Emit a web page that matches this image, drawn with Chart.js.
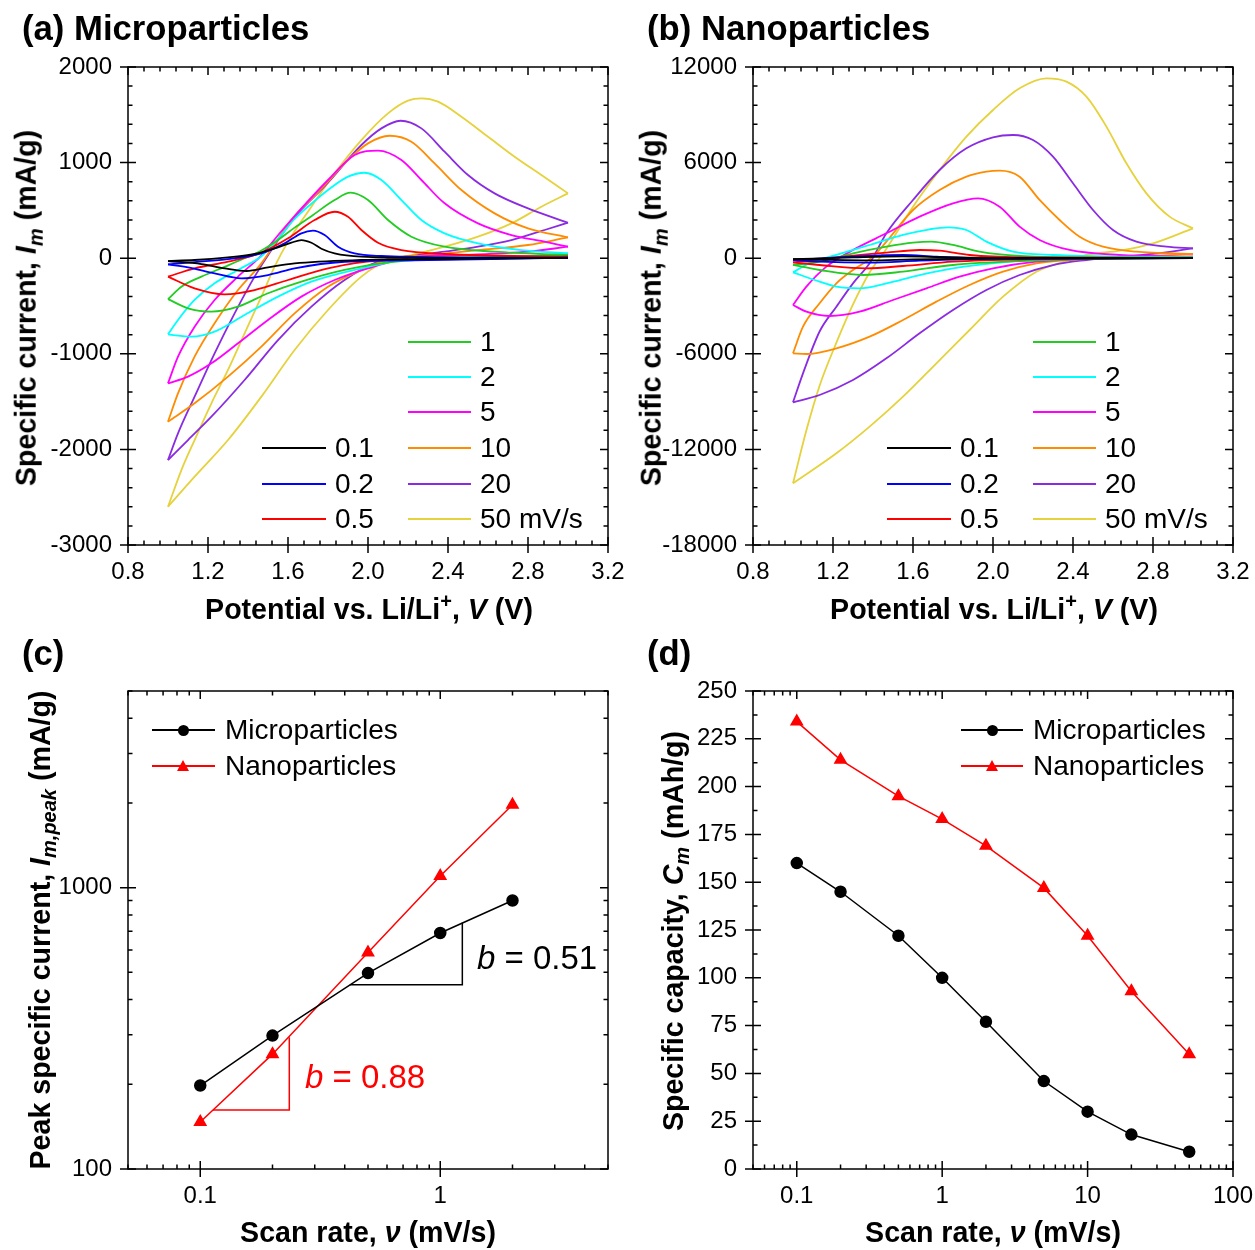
<!DOCTYPE html>
<html><head><meta charset="utf-8">
<script src="https://cdn.jsdelivr.net/npm/chart.js@4.4.0/dist/chart.umd.min.js"></script>
<style>
body{margin:0;background:#fff;}
#wrap{position:relative;width:1255px;height:1250px;overflow:hidden;font-family:"Liberation Sans",Arial,sans-serif;color:#000;background:#fff;}
canvas{position:absolute;}
.t{position:absolute;white-space:nowrap;line-height:1;}
.ptitle{font-weight:bold;font-size:34.7px;transform:translateY(-50%);}
.axt{font-weight:bold;font-size:28.6px;transform:translate(-50%,-50%);}
.axt.rot{transform:translate(-50%,-50%) rotate(-90deg);}
.lg{font-size:28px;transform:translateY(-50%);}
.bl{font-size:33px;transform:translateY(-50%);}
.ln{position:absolute;height:2px;}
sub,sup{font-size:0.7em;line-height:0;}
</style></head><body><div id="wrap">
<canvas id="ca" width="648" height="625" style="left:0;top:0"></canvas>
<canvas id="cb" width="648" height="625" style="left:625px;top:0"></canvas>
<canvas id="cc" width="648" height="625" style="left:0;top:625px"></canvas>
<canvas id="cd" width="648" height="625" style="left:625px;top:625px"></canvas>

<div class="t ptitle" style="left:22px;top:28px">(a) Microparticles</div>
<div class="t ptitle" style="left:647px;top:28px">(b) Nanoparticles</div>
<div class="t ptitle" style="left:22px;top:653px">(c)</div>
<div class="t ptitle" style="left:647px;top:653px">(d)</div>

<div class="t axt" style="left:369px;top:609px">Potential vs. Li/Li<sup>+</sup>, <i>V</i> (V)</div>
<div class="t axt" style="left:994px;top:609px">Potential vs. Li/Li<sup>+</sup>, <i>V</i> (V)</div>
<div class="t axt rot" style="left:26px;top:308px">Specific current, <i>I</i><sub><i>m</i></sub> (mA/g)</div>
<div class="t axt rot" style="left:651px;top:308px">Specific current, <i>I</i><sub><i>m</i></sub> (mA/g)</div>

<div class="t axt" style="left:368px;top:1232px">Scan rate, <i>ν</i> (mV/s)</div>
<div class="t axt" style="left:993px;top:1232px">Scan rate, <i>ν</i> (mV/s)</div>
<div class="t axt rot" style="left:40px;top:930px">Peak specific current, <i>I</i><sub><i>m,peak</i></sub> (mA/g)</div>
<div class="t axt rot" style="left:673px;top:931px">Specific capacity, <i>C</i><sub><i>m</i></sub> (mAh/g)</div>

<div class="t bl" style="left:477px;top:957px"><i>b</i> = 0.51</div>
<div class="t bl" style="left:305px;top:1076px;color:#ff0000"><i>b</i> = 0.88</div>

<div id="legends"></div>
</div>
<script>
// ---------- shared labels / colours ----------
const rateLabels = ['0.1','0.2','0.5','1','2','5','10','20','50 mV/s'];
const rateColors = ['#000000','#0000ff','#ff0000','#22cc22','#00ffff','#ff00ff','#ff8c00','#8a2be2','#e6d23c'];

// ---------- tick labels ----------
const cvXTicks = [0.8,1.2,1.6,2.0,2.4,2.8,3.2];
const microYTicks = [-3000,-2000,-1000,0,1000,2000];
const nanoYTicks = [-18000,-12000,-6000,0,6000,12000];
const cXTicks = [0.1,1];
const cYTicks = [100,1000];
const dXTicks = [0.1,1,10,100];
const dYTicks = [0,25,50,75,100,125,150,175,200,225,250];

// ---------- (a) microparticles CV: [V, mA/g]; Up = anodic sweep, Dn = cathodic sweep ----------
const mu01Up = [[1.0,-30],[1.133,-19],[1.3,9],[1.433,44],[1.533,103],[1.617,162],[1.667,190],[1.717,162],[1.767,99],[1.833,51],[1.967,16],[2.3,4],[3.0,3]];
const mu01Dn = [[1.0,-30],[1.167,-61],[1.283,-106],[1.392,-134],[1.5,-96],[1.633,-54],[1.967,-19],[2.5,-5],[3.0,3]];
const mu02Up = [[1.0,-65],[1.133,-40],[1.3,-9],[1.467,51],[1.583,155],[1.667,260],[1.725,288],[1.783,242],[1.85,120],[1.933,50],[2.067,23],[2.467,9],[3.0,5]];
const mu02Dn = [[1.0,-65],[1.1,-96],[1.233,-159],[1.367,-211],[1.5,-176],[1.633,-106],[1.883,-37],[2.3,-19],[3.0,5]];
const mu05Up = [[1.0,-193],[1.133,-106],[1.3,-37],[1.467,58],[1.6,208],[1.733,399],[1.833,486],[1.9,434],[1.967,295],[2.05,162],[2.167,85],[2.383,44],[3.0,16]];
const mu05Dn = [[1.0,-193],[1.133,-315],[1.283,-378],[1.433,-333],[1.6,-228],[1.8,-106],[2.05,-26],[2.467,-10],[3.0,16]];
const mu1Up = [[1.0,-428],[1.067,-298],[1.167,-193],[1.283,-90],[1.383,0],[1.467,80],[1.55,190],[1.633,320],[1.717,440],[1.833,608],[1.913,685],[2.0,608],[2.1,399],[2.217,225],[2.383,120],[2.633,68],[3.0,33]];
const mu1Dn = [[1.0,-428],[1.1,-524],[1.217,-559],[1.35,-507],[1.5,-367],[1.667,-245],[1.883,-123],[2.133,-36],[2.467,-2],[3.0,33]];
const mu2Up = [[1.0,-796],[1.05,-646],[1.133,-437],[1.233,-263],[1.35,-123],[1.467,20],[1.55,200],[1.633,410],[1.717,570],[1.8,713],[1.9,853],[1.983,894],[2.067,818],[2.167,608],[2.267,399],[2.383,260],[2.55,155],[2.767,85],[3.0,51]];
const mu2Dn = [[1.0,-796],[1.117,-821],[1.233,-768],[1.383,-594],[1.55,-402],[1.717,-245],[1.967,-106],[2.133,-36],[2.383,5],[2.717,16],[3.0,51]];
const mu5Up = [[1.0,-1309],[1.05,-1030],[1.133,-716],[1.233,-437],[1.35,-193],[1.467,30],[1.55,240],[1.633,441],[1.8,818],[1.933,1079],[2.05,1125],[2.167,1027],[2.267,818],[2.383,574],[2.55,364],[2.717,242],[2.883,173],[3.0,120]];
const mu5Dn = [[1.0,-1309],[1.1,-1239],[1.217,-1100],[1.35,-890],[1.5,-646],[1.667,-402],[1.833,-228],[2.0,-106],[2.217,9],[2.467,33],[2.8,68],[3.0,120]];
const mu10Up = [[1.0,-1710],[1.05,-1414],[1.133,-1030],[1.233,-681],[1.35,-333],[1.467,-54],[1.55,200],[1.633,441],[1.717,620],[1.8,800],[1.883,992],[2.0,1201],[2.108,1281],[2.217,1219],[2.333,992],[2.467,713],[2.633,469],[2.8,312],[3.0,218]];
const mu10Dn = [[1.0,-1710],[1.133,-1518],[1.3,-1239],[1.467,-925],[1.633,-577],[1.8,-298],[1.967,-123],[2.1,-12],[2.3,33],[2.55,85],[2.8,138],[3.0,218]];
const mu20Up = [[1.0,-2111],[1.05,-1832],[1.133,-1448],[1.233,-995],[1.333,-577],[1.433,-193],[1.517,86],[1.633,427],[1.8,790],[1.967,1184],[2.067,1358],[2.163,1438],[2.267,1358],[2.383,1114],[2.5,870],[2.633,678],[2.8,521],[3.0,371]];
const mu20Dn = [[1.0,-2111],[1.1,-1902],[1.217,-1658],[1.383,-1274],[1.55,-856],[1.717,-507],[1.883,-228],[2.05,-36],[2.217,23],[2.383,68],[2.55,120],[2.717,190],[2.883,295],[3.0,371]];
const mu50Up = [[1.0,-2600],[1.067,-2216],[1.133,-1902],[1.217,-1518],[1.3,-1169],[1.383,-786],[1.467,-402],[1.533,-89],[1.6,173],[1.717,539],[1.833,887],[1.967,1236],[2.1,1515],[2.2,1648],[2.267,1672],[2.35,1637],[2.467,1480],[2.6,1271],[2.733,1062],[2.867,870],[3.0,678]];
const mu50Dn = [[1.0,-2600],[1.133,-2285],[1.3,-1902],[1.467,-1448],[1.633,-960],[1.8,-542],[1.967,-193],[2.1,-19],[2.217,33],[2.383,120],[2.55,225],[2.717,364],[2.867,539],[3.0,678]];

// ---------- (b) nanoparticles CV ----------
const na01Up = [[1.0,-60],[1.3,50],[1.55,110],[1.75,60],[2.0,10],[3.0,0]];
const na01Dn = [[1.0,-60],[1.15,-100],[1.38,-140],[1.6,-80],[2.0,-20],[3.0,0]];
const na02Up = [[1.0,-112],[1.3,97],[1.55,202],[1.717,97],[1.967,10],[3.0,0]];
const na02Dn = [[1.0,-112],[1.133,-217],[1.383,-280],[1.633,-154],[2.0,-40],[3.0,0]];
const na05Up = [[1.0,-258],[1.217,55],[1.467,348],[1.633,516],[1.733,474],[1.883,202],[2.133,55],[3.0,20]];
const na05Dn = [[1.0,-258],[1.133,-426],[1.367,-635],[1.55,-489],[1.8,-217],[2.2,-60],[3.0,20]];
const na1Up = [[1.0,-426],[1.133,-217],[1.3,307],[1.467,725],[1.6,976],[1.692,1039],[1.8,829],[1.933,411],[2.133,139],[2.5,50],[3.0,30]];
const na1Dn = [[1.0,-426],[1.133,-740],[1.35,-1053],[1.55,-844],[1.8,-426],[2.133,-175],[2.5,-50],[3.0,30]];
const na2Up = [[1.0,-887],[1.08,-321],[1.217,202],[1.383,829],[1.55,1457],[1.683,1813],[1.775,1938],[1.867,1771],[1.967,1039],[2.1,411],[2.3,202],[3.0,55]];
const na2Dn = [[1.0,-887],[1.133,-1473],[1.217,-1787],[1.333,-1892],[1.467,-1578],[1.633,-1055],[1.8,-636],[2.05,-260],[2.3,-71],[3.0,55]];
const na5Up = [[1.0,-2937],[1.067,-1785],[1.167,-530],[1.3,516],[1.467,1562],[1.633,2608],[1.8,3445],[1.925,3759],[2.033,3235],[2.133,1980],[2.233,1143],[2.383,516],[2.633,202],[3.0,97]];
const na5Dn = [[1.0,-2937],[1.067,-3356],[1.183,-3628],[1.333,-3356],[1.5,-2624],[1.667,-1891],[1.833,-1159],[2.0,-636],[2.217,-218],[2.467,-50],[3.0,97]];
const na10Up = [[1.0,-5971],[1.05,-4300],[1.133,-2832],[1.217,-1578],[1.3,-741],[1.4,96],[1.467,1039],[1.6,3026],[1.733,4281],[1.867,5118],[1.967,5432],[2.033,5495],[2.133,5118],[2.233,3654],[2.333,2398],[2.433,1352],[2.55,724],[2.717,411],[3.0,265]];
const na10Dn = [[1.0,-5971],[1.067,-6013],[1.217,-5657],[1.383,-4925],[1.55,-3879],[1.717,-2728],[1.883,-1682],[2.05,-845],[2.217,-322],[2.383,-113],[2.717,97],[3.0,265]];
const na20Up = [[1.0,-9046],[1.05,-7226],[1.133,-4600],[1.217,-3041],[1.3,-1578],[1.383,-322],[1.467,1562],[1.6,3654],[1.733,5536],[1.867,6896],[2.0,7586],[2.1,7733],[2.2,7419],[2.3,6373],[2.4,4700],[2.5,3026],[2.6,1771],[2.717,1039],[2.867,724],[3.0,620]];
const na20Dn = [[1.0,-9046],[1.133,-8586],[1.3,-7644],[1.467,-6285],[1.633,-4715],[1.8,-3251],[1.967,-1996],[2.133,-1055],[2.3,-427],[2.467,-113],[2.633,97],[2.8,265],[3.0,620]];
const na50Up = [[1.0,-14130],[1.067,-10800],[1.133,-8000],[1.217,-5300],[1.3,-2900],[1.383,-900],[1.467,600],[1.6,3235],[1.733,5536],[1.867,7628],[2.0,9302],[2.133,10662],[2.267,11289],[2.367,11080],[2.467,10139],[2.567,8256],[2.667,5955],[2.767,4072],[2.883,2608],[3.0,1875]];
const na50Dn = [[1.0,-14130],[1.217,-12247],[1.383,-10573],[1.55,-8691],[1.717,-6598],[1.883,-4506],[2.05,-2414],[2.217,-845],[2.383,-113],[2.467,202],[2.633,474],[2.8,934],[3.0,1875]];

// ---------- (c) peak current vs scan rate ----------
const scanRatesC = [0.1,0.2,0.5,1,2];
const microPeak = [198,298,497,690,900];
const nanoPeak = [147,256,588,1100,1970];
const slopeMicroX = [0.42,1.236,1.236];
const slopeMicroY = [452,452,750];
const slopeNanoX = [0.113,0.235,0.235];
const slopeNanoY = [162,162,294];

// ---------- (d) capacity vs scan rate ----------
const scanRatesD = [0.1,0.2,0.5,1,2,5,10,20,50];
const microCap = [160,145,122,100,77,46,30,18,9];
const nanoCap = [234,214,195,183,169,147,122,93,60];

// ================= rendering =================
const microUp = [mu01Up,mu02Up,mu05Up,mu1Up,mu2Up,mu5Up,mu10Up,mu20Up,mu50Up];
const microDn = [mu01Dn,mu02Dn,mu05Dn,mu1Dn,mu2Dn,mu5Dn,mu10Dn,mu20Dn,mu50Dn];
const nanoUp = [na01Up,na02Up,na05Up,na1Up,na2Up,na5Up,na10Up,na20Up,na50Up];
const nanoDn = [na01Dn,na02Dn,na05Dn,na1Dn,na2Dn,na5Dn,na10Dn,na20Dn,na50Dn];

Chart.defaults.font.family = '"Liberation Sans", Arial, sans-serif';
Chart.defaults.color = '#000';

function range(a, b, s){ const o=[]; for(let v=a; v<=b+1e-9; v+=s) o.push(+v.toFixed(6)); return o; }
function logMinor(lo, hi){ const o=[]; for(let d=lo; d<hi; d*=10){ for(let k=2;k<=9;k++){ o.push(+(d*k).toPrecision(6)); } } return o; }

const frameTicks = {
  id:'frameTicks',
  afterDraw(chart, args, o){
    const {ctx, chartArea:a} = chart; const sx = chart.scales.x, sy = chart.scales.y;
    ctx.save(); ctx.strokeStyle='#000'; ctx.lineWidth=1.5;
    ctx.beginPath();
    const seg=(x1,y1,x2,y2)=>{ctx.moveTo(x1,y1);ctx.lineTo(x2,y2);};
    const inX = v => { const p = sx.getPixelForValue(v); return (p >= a.left-0.5 && p <= a.right+0.5) ? p : null; };
    const inY = v => { const p = sy.getPixelForValue(v); return (p >= a.top-0.5 && p <= a.bottom+0.5) ? p : null; };
    o.xMajor.forEach(v=>{const p=inX(v); if(p===null) return; seg(p,a.bottom+8,p,a.bottom-8); seg(p,a.top,p,a.top+8);});
    o.xMinor.forEach(v=>{const p=inX(v); if(p===null) return; seg(p,a.bottom,p,a.bottom-4.5); seg(p,a.top,p,a.top+4.5);});
    o.yMajor.forEach(v=>{const p=inY(v); if(p===null) return; seg(a.left-8,p,a.left+8,p); seg(a.right-8,p,a.right,p);});
    o.yMinor.forEach(v=>{const p=inY(v); if(p===null) return; seg(a.left,p,a.left+4.5,p); seg(a.right-4.5,p,a.right,p);});
    ctx.stroke();
    ctx.strokeRect(a.left,a.top,a.right-a.left,a.bottom-a.top);
    ctx.restore();
  }
};

function axis(type, min, max, ticksArr, fmt, isX, fitSize){
  return {
    type, min, max,
    afterBuildTicks: s => { s.ticks = ticksArr.map(v=>({value:v})); },
    ticks:{ callback: v => fmt(v), font:{size:24}, color:'#000', padding: isX ? 13 : 16, autoSkip:false, maxRotation:0, minRotation:0 },
    grid:{ display:false, drawTicks:false },
    border:{ display:false },
    afterFit: s => { if(isX) s.height = fitSize; else s.width = fitSize; }
  };
}

// right padding is larger than any label overhang so the plot's right edge is fixed
const PAD_R = 40;

function cvSets(ups, dns){
  const out=[];
  ups.forEach((u,i)=>{
    out.push({data:u, borderColor:rateColors[i], borderWidth:1.8, pointRadius:0, fill:false, cubicInterpolationMode:'monotone'});
    out.push({data:dns[i], borderColor:rateColors[i], borderWidth:1.8, pointRadius:0, fill:false, cubicInterpolationMode:'monotone'});
  });
  return out;
}

function cvChart(id, ups, dns, yTicks, yMin, yMax, yMinorStep){
  new Chart(document.getElementById(id), {
    type:'line',
    data:{ datasets: cvSets(ups, dns) },
    options:{
      responsive:false, animation:false, events:[], devicePixelRatio:1,
      layout:{ padding:{ top:67, right:PAD_R, left:0, bottom:0 } },
      plugins:{ legend:{display:false}, tooltip:{enabled:false},
        frameTicks:{ xMajor:cvXTicks, xMinor:range(0.8,3.2,0.08), yMajor:yTicks, yMinor:range(yMin,yMax,yMinorStep) } },
      scales:{
        x: axis('linear',0.8,3.2,cvXTicks, v=>Number(v).toFixed(1), true, 80),
        y: axis('linear',yMin,yMax,yTicks, v=>String(v), false, 128)
      }
    },
    plugins:[frameTicks]
  });
}
cvChart('ca', microUp, microDn, microYTicks, -3000, 2000, 200);
cvChart('cb', nanoUp, nanoDn, nanoYTicks, -18000, 12000, 1200);

const pairs = (xs, ys) => xs.map((x,i)=>[x, ys[i]]);

new Chart(document.getElementById('cc'), {
  type:'line',
  data:{ datasets:[
    {data:pairs(slopeMicroX, slopeMicroY), borderColor:'#000', borderWidth:1.5, pointRadius:0, tension:0},
    {data:pairs(slopeNanoX, slopeNanoY), borderColor:'#ff0000', borderWidth:1.5, pointRadius:0, tension:0},
    {data:pairs(scanRatesC, microPeak), borderColor:'#000', borderWidth:1.5, pointStyle:'circle', pointRadius:5.5, pointBackgroundColor:'#000', pointBorderColor:'#000', tension:0},
    {data:pairs(scanRatesC, nanoPeak), borderColor:'#ff0000', borderWidth:1.5, pointStyle:'triangle', pointRadius:6.5, pointBackgroundColor:'#ff0000', pointBorderColor:'#ff0000', tension:0}
  ]},
  options:{
    responsive:false, animation:false, events:[], devicePixelRatio:1,
    layout:{ padding:{ top:66, right:PAD_R, left:0, bottom:0 } },
    plugins:{ legend:{display:false}, tooltip:{enabled:false},
      frameTicks:{ xMajor:cXTicks, xMinor:logMinor(0.01,10).filter(v=>v>=0.05&&v<=5), yMajor:cYTicks, yMinor:logMinor(100,10000).filter(v=>v<=5000) } },
    scales:{
      x: axis('logarithmic',0.05,5,cXTicks, v=>String(v), true, 81),
      y: axis('logarithmic',100,5000,cYTicks, v=>String(v), false, 128)
    }
  },
  plugins:[frameTicks]
});

new Chart(document.getElementById('cd'), {
  type:'line',
  data:{ datasets:[
    {data:pairs(scanRatesD, microCap), borderColor:'#000', borderWidth:1.5, pointStyle:'circle', pointRadius:5.5, pointBackgroundColor:'#000', pointBorderColor:'#000', tension:0},
    {data:pairs(scanRatesD, nanoCap), borderColor:'#ff0000', borderWidth:1.5, pointStyle:'triangle', pointRadius:6.5, pointBackgroundColor:'#ff0000', pointBorderColor:'#ff0000', tension:0}
  ]},
  options:{
    responsive:false, animation:false, events:[], devicePixelRatio:1,
    layout:{ padding:{ top:66, right:PAD_R, left:0, bottom:0 } },
    plugins:{ legend:{display:false}, tooltip:{enabled:false},
      frameTicks:{ xMajor:dXTicks, xMinor:logMinor(0.01,100).filter(v=>v>=0.05&&v<=100), yMajor:dYTicks, yMinor:range(12.5,250,25) } },
    scales:{
      x: axis('logarithmic',0.05,100,dXTicks, v=>String(v), true, 81),
      y: axis('linear',0,250,dYTicks, v=>String(v), false, 128)
    }
  },
  plugins:[frameTicks]
});

// ---------- legends (HTML) ----------
const L = document.getElementById('legends');
function addLine(x, y, w, color){ const d=document.createElement('div'); d.className='ln'; d.style.left=x+'px'; d.style.top=(y-1)+'px'; d.style.width=w+'px'; d.style.background=color; L.appendChild(d); }
function addText(x, y, txt, cls){ const d=document.createElement('div'); d.className='t '+(cls||'lg'); d.style.left=x+'px'; d.style.top=y+'px'; d.textContent=txt; L.appendChild(d); }
function cvLegend(ox){
  const col1Y=[448,484,519], col2Y=[342,377,412,448,484,519];
  rateLabels.forEach((lab,i)=>{
    if(i<3){ addLine(ox+262, col1Y[i], 64, rateColors[i]); addText(ox+335, col1Y[i], lab); }
    else { addLine(ox+408, col2Y[i-3], 63, rateColors[i]); addText(ox+480, col2Y[i-3], lab); }
  });
}
cvLegend(0); cvLegend(625);

function markerLegend(x0, x1, names){
  const ys=[730,766], cols=['#000','#ff0000'];
  names.forEach((n,i)=>{
    addLine(x0, ys[i], x1-x0, cols[i]);
    const m=document.createElement('div'); m.style.position='absolute';
    const cx=(x0+x1)/2;
    if(i===0){ m.style.left=(cx-5.5)+'px'; m.style.top=(ys[i]-5.5)+'px'; m.style.width='11px'; m.style.height='11px'; m.style.borderRadius='50%'; m.style.background='#000'; }
    else { m.style.left=(cx-6.5)+'px'; m.style.top=(ys[i]-6.5)+'px'; m.style.width='0'; m.style.height='0'; m.style.borderLeft='6.5px solid transparent'; m.style.borderRight='6.5px solid transparent'; m.style.borderBottom='11px solid #ff0000'; }
    L.appendChild(m);
    addText(x1+10, ys[i], n, 'lg');
  });
}
markerLegend(152, 215, ['Microparticles','Nanoparticles']);
markerLegend(961, 1023, ['Microparticles','Nanoparticles']);
</script>
</body></html>
